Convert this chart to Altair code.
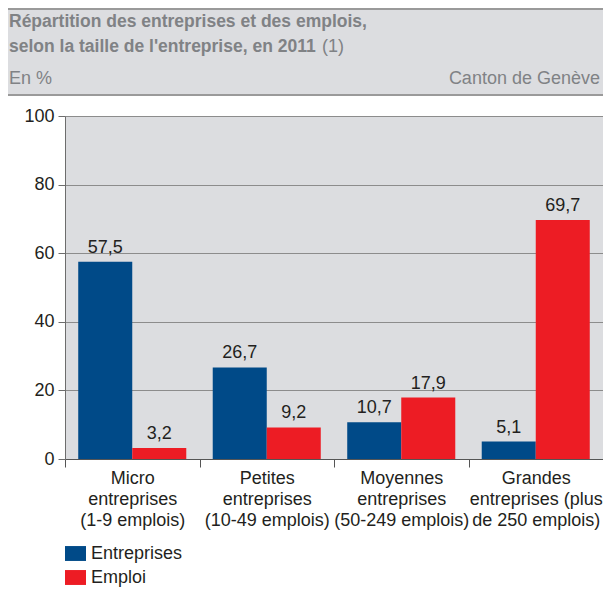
import altair as alt
import pandas as pd

categories = [
    "Micro|entreprises|(1-9 emplois)",
    "Petites|entreprises|(10-49 emplois)",
    "Moyennes|entreprises|(50-249 emplois)",
    "Grandes|entreprises (plus|de 250 emplois)",
]
series = ["Entreprises", "Emploi"]
entreprises = [57.5, 26.7, 10.7, 5.1]
emploi = [3.2, 9.2, 17.9, 69.7]
y_ticks = [0, 20, 40, 60, 80, 100]

rows = []
for c, a, b in zip(categories, entreprises, emploi):
    rows.append({"cat": c, "serie": series[0], "val": a})
    rows.append({"cat": c, "serie": series[1], "val": b})
df = pd.DataFrame(rows)
df["lab"] = df["val"].map(lambda v: f"{v:.1f}".replace(".", ","))

FONT = "Liberation Sans"
BLUE = "#004a88"
RED = "#ed1c24"
W = 538
one = pd.DataFrame({"k": [0]})

x_enc = alt.X("cat:N", sort=categories, title=None,
              scale=alt.Scale(paddingInner=0, paddingOuter=0),
              axis=alt.Axis(labelExpr="split(datum.label, '|')", labelAngle=0,
                            tickBand="extent", tickSize=8, labelPadding=2,
                            labelLineHeight=21, labelFontSize=18, labelFont=FONT,
                            labelColor="#231f20", domainColor="#555555", tickColor="#555555",
                            grid=False, labelBaseline="top"))
xo_enc = alt.XOffset("serie:N", sort=series,
                     scale=alt.Scale(paddingInner=0, paddingOuter=0.245))
y_enc = alt.Y("val:Q", title=None,
              scale=alt.Scale(domain=[0, 100], nice=False),
              axis=alt.Axis(values=y_ticks, tickSize=7, labelPadding=4, labelFontSize=18,
                            labelFont=FONT, labelColor="#231f20", domainColor="#6d6d6d",
                            tickColor="#6d6d6d", gridColor="#8c8c8c", gridWidth=1.2))

bars = alt.Chart(df).mark_bar().encode(
    x=x_enc, xOffset=xo_enc, y=y_enc,
    color=alt.Color("serie:N", sort=series, title=None,
                    scale=alt.Scale(domain=series, range=[BLUE, RED]),
                    legend=alt.Legend(orient="none", legendX=0, legendY=427,
                                      direction="vertical", padding=0,
                                      symbolType="M-1,-0.71L1,-0.71L1,0.71L-1,0.71Z",
                                      symbolSize=441, symbolStrokeWidth=0,
                                      symbolOpacity=1,
                                      labelFontSize=18, labelFont=FONT,
                                      labelColor="#231f20", labelOffset=5,
                                      rowPadding=4)),
)

texts = alt.Chart(df).mark_text(baseline="alphabetic", dy=-9, fontSize=18,
                                font=FONT, color="#231f20").encode(
    x=alt.X("cat:N", sort=categories), xOffset=xo_enc,
    y=alt.Y("val:Q"), text="lab:N",
)

hdr_rect = alt.Chart(one).mark_rect(color="#dcdde0").encode(
    x=alt.value(-57), x2=alt.value(W), y=alt.value(-108), y2=alt.value(-21))
hdr_top = alt.Chart(one).mark_rule(color="#9a9a9a", strokeWidth=2).encode(
    x=alt.value(-57), x2=alt.value(W), y=alt.value(-107))
hdr_bot = alt.Chart(one).mark_rule(color="#9a9a9a", strokeWidth=2).encode(
    x=alt.value(-57), x2=alt.value(W), y=alt.value(-21))

def htext(txt, x, y, bold=False, align="left"):
    return alt.Chart(one).mark_text(
        text=txt, align=align, baseline="middle", fontSize=17.5 if bold else 18,
        font=FONT, fontWeight="bold" if bold else "normal", color="#808285"
    ).encode(x=alt.value(x), y=alt.value(y))

t1 = htext("Répartition des entreprises et des emplois,", -56, -94, bold=True)
t2 = htext("selon la taille de l'entreprise, en 2011", -56, -69, bold=True)
t3 = htext("(1)", 257, -69)
t4 = htext("En %", -56, -37)
t5 = htext("Canton de Genève", W - 3, -37, align="right")

chart = alt.layer(hdr_rect, hdr_top, hdr_bot, t1, t2, t3, t4, t5, bars, texts).properties(
    width=W, height=343,
    autosize=alt.AutoSizeParams(type="none"),
    padding={"left": 57, "top": 108, "right": 0, "bottom": 130},
    background="white",
).configure_view(fill="#dcdde0", stroke=None)

chart.save("out.html", embed_options={"renderer": "svg", "actions": False})
